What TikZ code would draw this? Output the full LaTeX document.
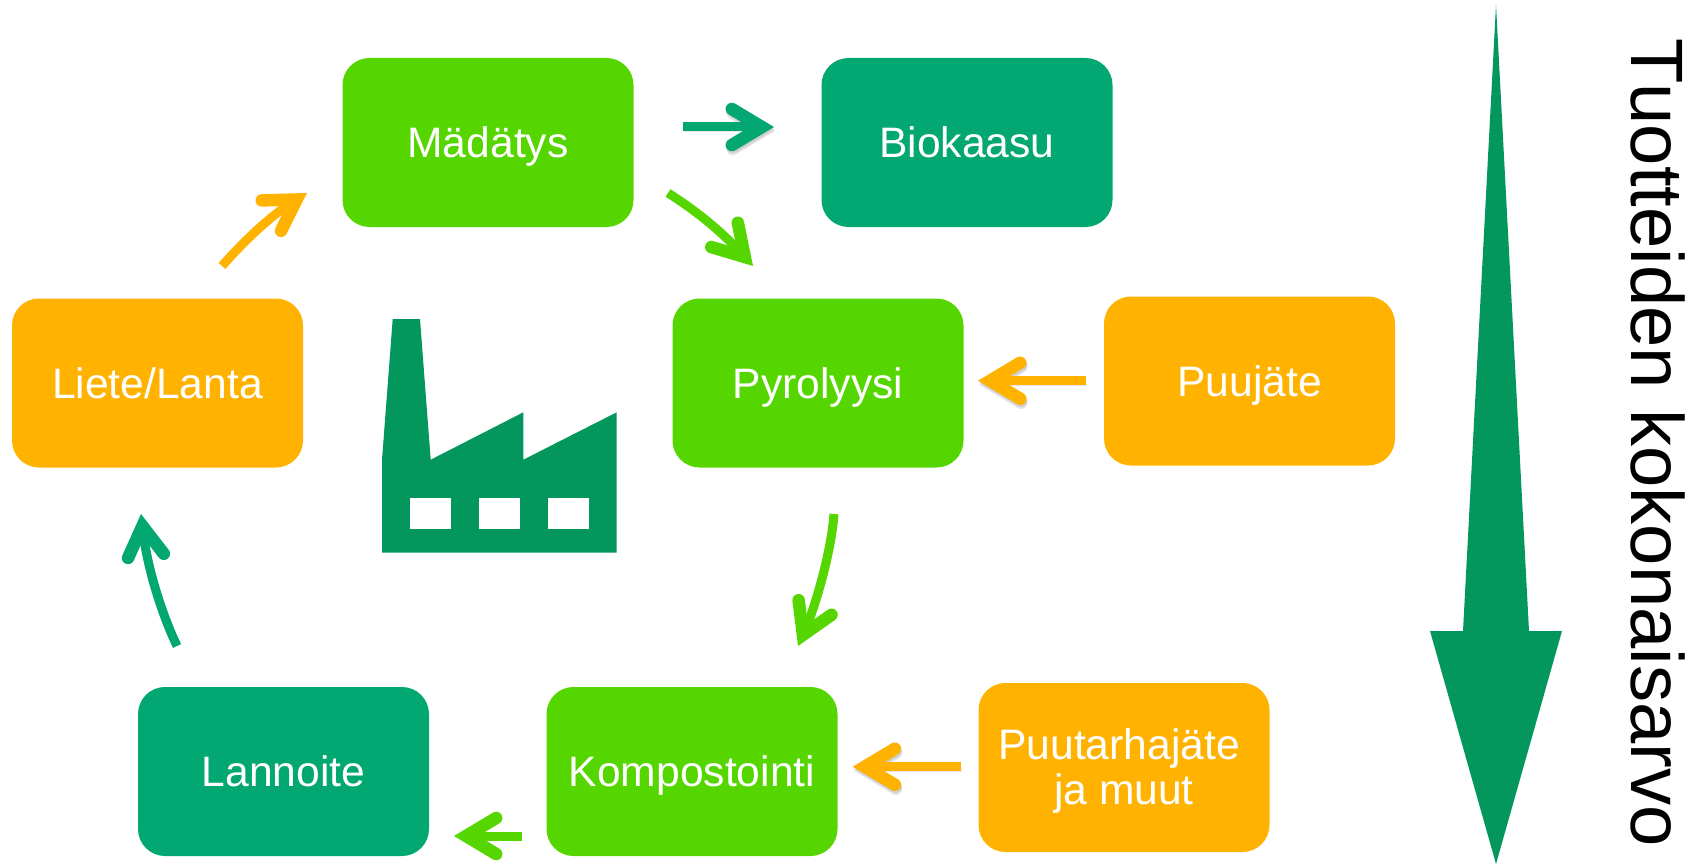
\documentclass[tikz,border=0pt]{standalone}
\usepackage{fontspec}
\setmainfont[Kerning=Off]{Liberation Sans}
\usetikzlibrary{arrows.meta}
\definecolor{teal}{HTML}{02A772}
\definecolor{lime}{HTML}{55D600}
\definecolor{amber}{HTML}{FFB200}
\definecolor{deep}{HTML}{03975E}
\tikzset{
  x=1pt,y=-1pt,
  boxbase/.style={rounded corners=27pt,minimum width=291pt,minimum height=169pt,inner sep=0pt,
    text=white,align=center,font=\fontsize{42.6}{46}\selectfont},
  oneline/.style={text height=30pt,text depth=0pt},
  tealbox/.style={boxbase,fill=teal},
  limebox/.style={boxbase,fill=lime},
  amberbox/.style={boxbase,fill=amber},
  flow/.style={line width=9pt,-{Straight Barb[length=30pt,width=36pt,line width=12.5pt,line cap=round,line join=miter]}},
  shade/.style={preaction={draw=black,draw opacity=.10,transform canvas={shift={(1pt,-4pt)}}},
                preaction={draw=black,draw opacity=.10,transform canvas={shift={(1pt,-2pt)}}}},
}
\begin{document}
\begin{tikzpicture}
\useasboundingbox (0,0) rectangle (1694,864);
\node[limebox,oneline] (madatys) at (488,142.5) {Mädätys};
\node[tealbox,oneline] (biokaasu) at (967,142.5) {Biokaasu};
\node[limebox,oneline] (pyro) at (818,383) {Pyrolyysi};
\node[amberbox,oneline] (puujate) at (1249.5,381) {Puujäte};
\node[amberbox,oneline] (liete) at (157.5,383) {Liete/Lanta};
\node[limebox,oneline] (kompost) at (692,771.5) {Kompostointi};
\node[tealbox,oneline] (lannoite) at (283.5,771.5) {Lannoite};
\node[amberbox] (puutarha) at (1124,767.5) {\rule{0pt}{38.5pt}Puutarhajäte\hspace*{10pt}\\[-1pt]ja muut};
% connector ends
\coordinate (a1s) at (683,127); \coordinate (a1e) at (774,127);
\coordinate (a2s) at (668,193); \coordinate (a2e) at (753,266);
\coordinate (a3s) at (1086,380.7); \coordinate (a3e) at (978,380.7);
\coordinate (a4s) at (834,514); \coordinate (a4e) at (798,646);
\coordinate (a5s) at (960.7,766.7); \coordinate (a5e) at (852.7,766.7);
\coordinate (a6s) at (522,836); \coordinate (a6e) at (454,836);
\coordinate (a7s) at (177,646); \coordinate (a7e) at (141,514);
\coordinate (a8s) at (222,266); \coordinate (a8e) at (307,193);
\draw[flow,teal,shade] (a1s) -- (a1e);
\draw[flow,lime] (a2s) .. controls (695,210) and (721,231) .. (a2e);
\draw[flow,amber,shade] (a3s) -- (a3e);
\draw[flow,lime] (a4s) .. controls (831,555) and (813.5,611) .. (a4e);
\draw[flow,amber,shade] (a5s) -- (a5e);
\draw[flow,lime] (a6s) -- (a6e);
\draw[flow,teal] (a7s) .. controls (160,610) and (147,565) .. (a7e);
\draw[flow,amber] (a8s) .. controls (245,240) and (270,216.5) .. (a8e);
% factory
\fill[deep] (392.7,319) -- (420,319) -- (430.7,459.7) -- (523.3,412.3) -- (523.3,459.7) -- (616.7,412.3)
  -- (616.7,552.7) -- (382,552.7) -- (382,459.7) -- cycle;
\fill[white] (409.7,498) rectangle (451,528.7);
\fill[white] (478.7,498) rectangle (520,528.7);
\fill[white] (547.7,498) rectangle (589,528.7);
% value arrow
\fill[deep] (1496,5) -- (1529,631) -- (1562,631) -- (1496,864) -- (1430,631) -- (1463,631) -- cycle;
\node[rotate=-90,anchor=base west,inner sep=0pt,font=\fontsize{74.2}{78}\selectfont] (value) at (1631,38) {Tuotteiden kokonaisarvo};
\end{tikzpicture}
\end{document}
